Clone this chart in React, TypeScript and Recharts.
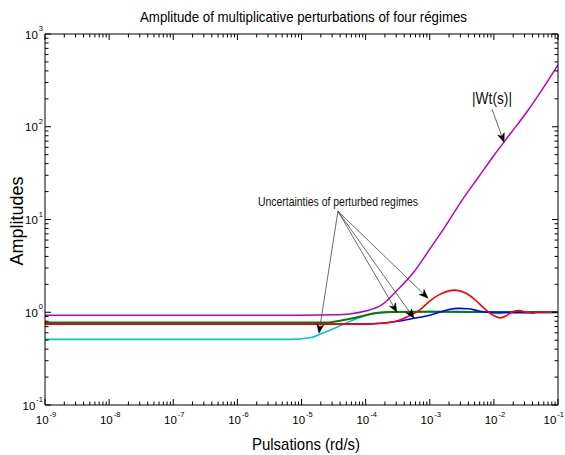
import React from 'react';
import { LineChart, Line, XAxis, YAxis, ReferenceLine } from 'recharts';

const W = 565;
const H = 455;

// ---- data: pulsation (rd/s) and amplitude ----
const wtFreq = [1e-9, 1e-5, 3.16e-5, 5.62e-5, 1e-4, 1.78e-4, 3.16e-4, 5.62e-4, 1e-3, 1.78e-3, 3.16e-3, 5.62e-3, 1e-2, 1.78e-2, 3.16e-2, 5.62e-2, 1e-1];
const wtAmp = [0.93, 0.93, 0.94, 0.96, 1.03, 1.2, 1.75, 2.7, 4.8, 8.6, 16, 28, 49, 83, 140, 250, 465];

const cyanFreq = [1e-9, 6.6e-6, 1.35e-5, 1.95e-5, 3.55e-5, 6.3e-5, 1.17e-4, 2.7e-4, 1e-3, 3.16e-3, 7.9e-3, 1.12e-2, 1.58e-2, 2.24e-2, 3.16e-2, 4.5e-2, 6.3e-2, 1e-1];
const cyanAmp = [0.51, 0.51, 0.53, 0.58, 0.69, 0.82, 0.95, 1.01, 1.02, 1.02, 1.0, 0.97, 1.01, 1.02, 0.99, 1.01, 0.995, 1.0];

const greenFreq = [1e-9, 2.5e-5, 4e-5, 6.3e-5, 1e-4, 1.58e-4, 2.5e-4, 1e-3, 1e-2, 1e-1];
const greenAmp = [0.775, 0.775, 0.81, 0.86, 0.93, 0.985, 1.005, 1.01, 1.005, 1.0];

const blueFreq = [1e-9, 1e-4, 1.78e-4, 3.16e-4, 5.62e-4, 1e-3, 1.41e-3, 2e-3, 2.82e-3, 3.98e-3, 5.62e-3, 7.9e-3, 1.26e-2, 1e-1];
const blueAmp = [0.745, 0.745, 0.76, 0.8, 0.86, 0.93, 1.0, 1.07, 1.1, 1.09, 1.04, 1.0, 0.99, 1.0];

const redFreq = [1e-9, 1e-4, 1.78e-4, 3.16e-4, 5e-4, 7.1e-4, 1e-3, 1.41e-3, 2e-3, 2.5e-3, 3.55e-3, 5e-3, 7.1e-3, 1e-2, 1.26e-2, 1.58e-2, 2e-2, 2.5e-2, 3.16e-2, 3.98e-2, 5e-2, 6.3e-2, 1e-1];
const redAmp = [0.745, 0.745, 0.76, 0.81, 0.93, 1.07, 1.32, 1.55, 1.7, 1.73, 1.62, 1.38, 1.1, 0.92, 0.87, 0.92, 1.02, 1.04, 1.0, 0.98, 1.01, 1.0, 1.0];

// tick label exponents
const xTickExps = [-9, -8, -7, -6, -5, -4, -3, -2, -1];
const yTickExps = [-1, 0, 1, 2, 3];

// annotation anchors (data coordinates)
const uncStart = { x: 3.7e-5, y: 12.3 };
const uncTips = [
  { x: 1.87e-5, y: 0.594 },
  { x: 3.08e-4, y: 1.0 },
  { x: 5.68e-4, y: 0.862 },
  { x: 9.4e-4, y: 1.416 },
];
const wtArrow = [{ x: 9.36e-3, y: 154.5 }, { x: 1.44e-2, y: 68 }];

const toData = (f: number[], a: number[]) => f.map((x, i) => ({ x, y: a[i] }));
const wtData = toData(wtFreq, wtAmp);
const cyanData = toData(cyanFreq, cyanAmp);
const greenData = toData(greenFreq, greenAmp);
const blueData = toData(blueFreq, blueAmp);
const redData = toData(redFreq, redAmp);

const buildTicks = (exps: number[]) => {
  const t: number[] = [];
  exps.forEach((e, i) => {
    t.push(Math.pow(10, e));
    if (i < exps.length - 1) for (let m = 2; m <= 9; m++) t.push(m * Math.pow(10, e));
  });
  return t;
};
const xTicks = buildTicks(xTickExps);
const yTicks = buildTicks(yTickExps);

const SANS = '"Liberation Sans", Arial, sans-serif';

const majorExp = (v: number) => {
  const l = Math.log10(v);
  const r = Math.round(l);
  return Math.abs(l - r) < 1e-6 ? r : null;
};

const MAJ = 6;
const MIN = 3.5;

const BASE_FS = 11.5;
const SUP_FS = 7.5;
const BASE_W = 2 * 0.556 * BASE_FS;

const TickLabel = ({ x, y, e, anchor }: { x: number; y: number; e: number; anchor: 'middle' | 'end' }) => {
  const supW = (e < 0 ? 0.889 : 0.556) * SUP_FS;
  const total = BASE_W + 1 + supW;
  let left = anchor === 'middle' ? x - total / 2 : x - total;
  if (left + total > W - 1) left = W - 1 - total;
  return (
    <g fontFamily={SANS} fill="#000">
      <text x={left} y={y} fontSize={BASE_FS}>10</text>
      <text x={left + BASE_W + 1} y={y - 7.5} fontSize={SUP_FS}>{e}</text>
    </g>
  );
};

const BottomTick = (p: any) => {
  const { x, y, payload } = p;
  const e = majorExp(payload.value);
  return (
    <g>
      <line x1={x} y1={y} x2={x} y2={y - (e !== null ? MAJ : MIN)} stroke="#000" strokeWidth={1} />
      {e !== null && <TickLabel x={x + 1} y={y + 19} e={e} anchor="middle" />}
    </g>
  );
};

const TopTick = (p: any) => {
  const { x, y, payload } = p;
  const e = majorExp(payload.value);
  return <line x1={x} y1={y} x2={x} y2={y + (e !== null ? MAJ : MIN)} stroke="#000" strokeWidth={1} />;
};

const LeftTick = (p: any) => {
  const { x, y, payload } = p;
  const e = majorExp(payload.value);
  return (
    <g>
      <line x1={x} y1={y} x2={x + (e !== null ? MAJ : MIN)} y2={y} stroke="#000" strokeWidth={1} />
      {e !== null && <TickLabel x={x - 2} y={y + 4.5} e={e} anchor="end" />}
    </g>
  );
};

const RightTick = (p: any) => {
  const { x, y, payload } = p;
  const e = majorExp(payload.value);
  return <line x1={x} y1={y} x2={x - (e !== null ? MAJ : MIN)} y2={y} stroke="#000" strokeWidth={1} />;
};

const makeArrow = (label?: { text: string; size: number; dy: number; len: number }) => (p: any) => {
  const { x1, y1, x2, y2 } = p;
  const ang = Math.atan2(y2 - y1, x2 - x1);
  const c = Math.cos(ang);
  const s = Math.sin(ang);
  const L = 9;
  const Wd = 3.5;
  const bx = x2 - L * c;
  const by = y2 - L * s;
  const nx = x2 - L * 0.7 * c;
  const ny = y2 - L * 0.7 * s;
  const pts = `${x2},${y2} ${bx + Wd * s},${by - Wd * c} ${nx},${ny} ${bx - Wd * s},${by + Wd * c}`;
  return (
    <g>
      <line x1={x1} y1={y1} x2={nx} y2={ny} stroke="#444" strokeWidth={0.8} />
      <polygon points={pts} fill="#000" stroke="#000" strokeWidth={0.5} />
      {label && (
        <text
          x={x1 - label.len / 2}
          y={y1 + label.dy}
          fontFamily={SANS}
          fontSize={label.size}
          fill="#111"
          textLength={label.len}
          lengthAdjust="spacingAndGlyphs"
        >
          {label.text}
        </text>
      )}
    </g>
  );
};

const axisCommon = {
  type: 'number' as const,
  scale: 'log' as const,
  allowDataOverflow: true,
  interval: 0 as const,
  tickSize: 0,
  tickMargin: 0,
  axisLine: { stroke: '#000', strokeWidth: 1 },
};

export default function App() {
  return (
    <div style={{ position: 'absolute', left: 0, top: 0, width: W, height: H, background: '#fff' }}>
      <LineChart width={W} height={H} margin={{ top: 33, right: 6, bottom: 49, left: 44 }}>
        <XAxis xAxisId={0} dataKey="x" domain={[1e-9, 1e-1]} ticks={xTicks} height={1} tick={<BottomTick />} {...axisCommon} />
        <XAxis xAxisId="top" orientation="top" dataKey="x" domain={[1e-9, 1e-1]} ticks={xTicks} height={1} tick={<TopTick />} {...axisCommon} />
        <YAxis yAxisId={0} domain={[0.1, 1000]} ticks={yTicks} width={1} tick={<LeftTick />} {...axisCommon} />
        <YAxis yAxisId="right" orientation="right" domain={[0.1, 1000]} ticks={yTicks} width={1} tick={<RightTick />} {...axisCommon} />
        <Line data={wtData} dataKey="y" type="monotone" stroke="#C000C0" strokeWidth={1.5} dot={false} isAnimationActive={false} />
        <Line data={cyanData} dataKey="y" type="monotone" stroke="#00C8C8" strokeWidth={1.6} dot={false} isAnimationActive={false} />
        <Line data={greenData} dataKey="y" type="monotone" stroke="#008000" strokeWidth={2} dot={false} isAnimationActive={false} />
        <Line data={blueData} dataKey="y" type="monotone" stroke="#0000FF" strokeWidth={1.6} dot={false} isAnimationActive={false} />
        <Line data={redData} dataKey="y" type="monotone" stroke="#FF0000" strokeWidth={1.6} dot={false} isAnimationActive={false} />
        {uncTips.map((tip, i) => (
          <ReferenceLine
            key={i}
            segment={[uncStart, tip]}
            ifOverflow="visible"
            shape={makeArrow(i === 0 ? { text: 'Uncertainties of perturbed regimes', size: 12, dy: -5, len: 160 } : undefined)}
          />
        ))}
        <ReferenceLine
          segment={[wtArrow[0], wtArrow[1]]}
          ifOverflow="visible"
          shape={makeArrow({ text: '|Wt(s)|', size: 17, dy: -5, len: 40 })}
        />
      </LineChart>
      <svg width={W} height={H} style={{ position: 'absolute', left: 0, top: 0, pointerEvents: 'none' }}>
        <text x={140} y={22} fontFamily={SANS} fontSize={15} fill="#000" textLength={327} lengthAdjust="spacingAndGlyphs">
          Amplitude of multiplicative perturbations of four régimes
        </text>
        <text x={252} y={450} fontFamily={SANS} fontSize={17} fill="#000" textLength={108} lengthAdjust="spacingAndGlyphs">
          Pulsations (rd/s)
        </text>
        <text x={23} y={221} textAnchor="middle" fontFamily={SANS} fontSize={18} fill="#000" transform="rotate(-90 23 221)">
          Amplitudes
        </text>
      </svg>
    </div>
  );
}
